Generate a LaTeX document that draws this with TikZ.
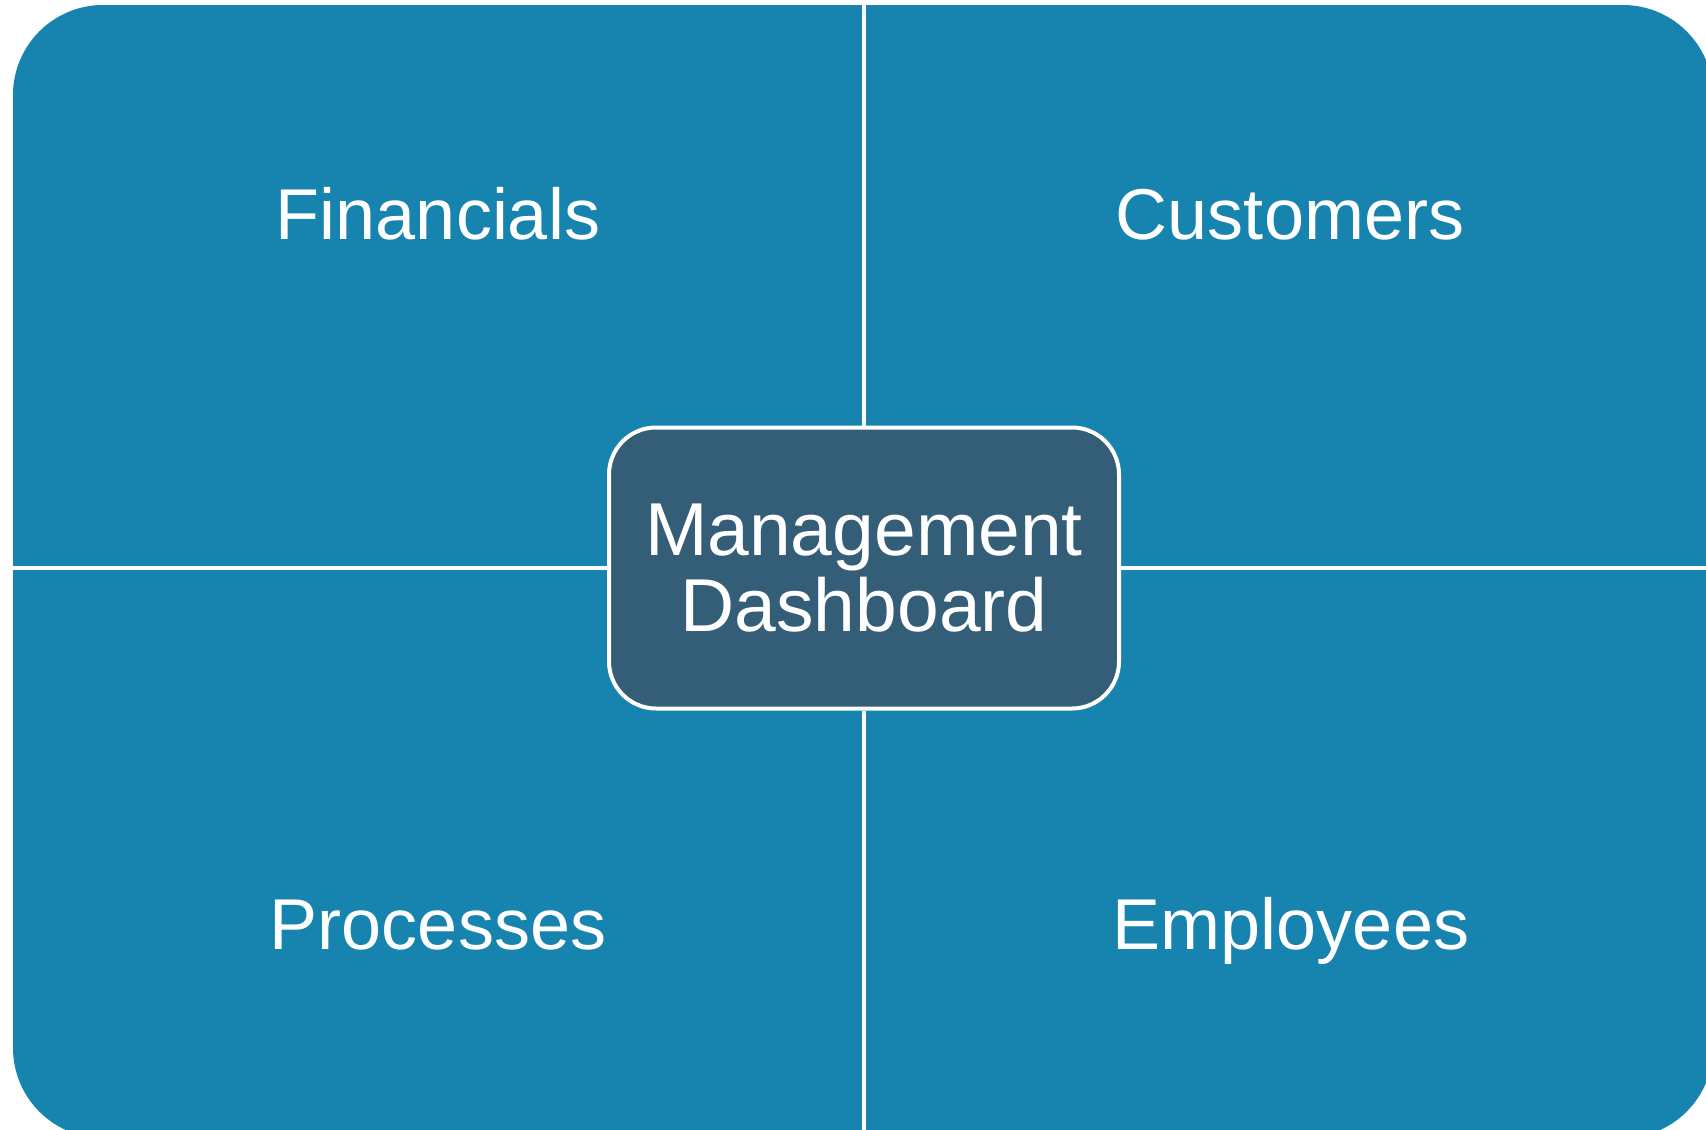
\documentclass[tikz,border=0pt]{standalone}
\usepackage{fontspec}
\setmainfont{Liberation Sans}
\begin{document}
\begin{tikzpicture}[x=1pt,y=-1pt]
        \definecolor{quadblue}{RGB}{23,131,175}
        \definecolor{hubblue}{RGB}{52,93,120}
        \tikzset{
            quadlabel/.style={text=white, anchor=base, inner sep=0, font=\fontsize{72}{76}\selectfont},
            divider/.style={white, line width=4pt},
        }

        \useasboundingbox (0,0) rectangle (1706,1130);
        \clip (0,0) rectangle (1706,1130);

        \fill[quadblue, rounded corners=90pt] (13,5) rectangle (1713,1138);

        \coordinate (top) at (864,0);
        \coordinate (bottom) at (864,1130);
        \coordinate (left) at (13,568);
        \coordinate (right) at (1706,568);

        \node[draw=white, line width=4pt, fill=hubblue, rounded corners=47pt, minimum width=510pt, minimum height=281pt, inner sep=0, align=center, text=white, font=\fontsize{75}{76}\selectfont] (hub) at (864,568) {Management\\Dashboard};

        \draw[divider] (hub.north) -- (top);
        \draw[divider] (hub.south) -- (bottom);
        \draw[divider] (hub.west) -- (left);
        \draw[divider] (hub.east) -- (right);

        \node[quadlabel] (fin) at (438,239) {Financials};
        \node[quadlabel] (cust) at (1290,239) {Customers};
        \node[quadlabel] (proc) at (438,949) {Processes};
        \node[quadlabel] (emp) at (1291,949) {Employees};
    \end{tikzpicture}
\end{document}
